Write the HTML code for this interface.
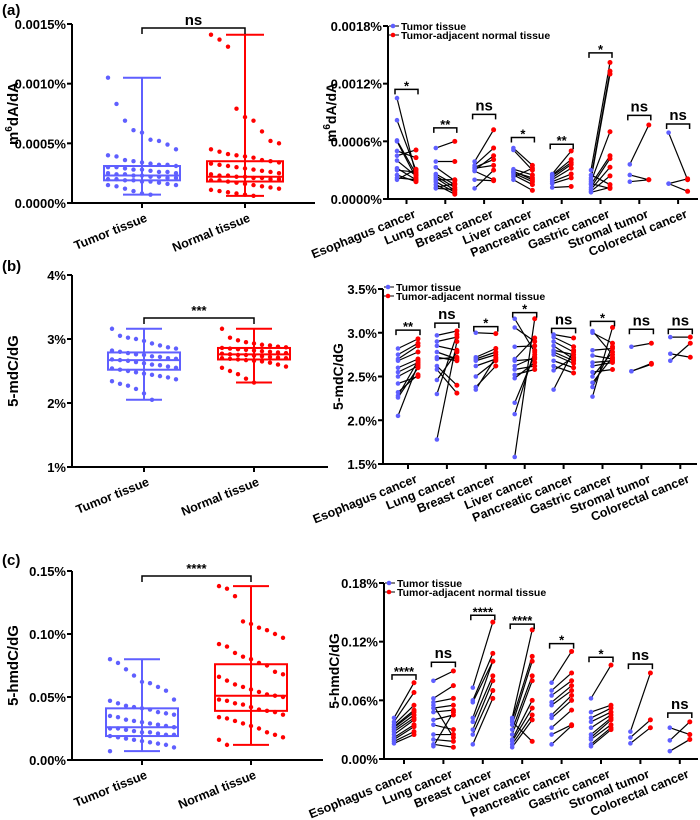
<!DOCTYPE html>
<html><head><meta charset="utf-8">
<style>
html,body{margin:0;padding:0;background:#fff;}
svg{display:block;font-family:"Liberation Sans",Arial,sans-serif;font-weight:bold;}
</style></head>
<body>
<svg id="fig" width="700" height="820" viewBox="0 0 700 820" xmlns="http://www.w3.org/2000/svg">
<text x="2" y="15" font-size="15">(a)</text>
<text x="2" y="271" font-size="15">(b)</text>
<text x="2" y="565" font-size="15">(c)</text>
</svg>
<script>
// ---------- DATA ----------
const groupNames = ["Tumor tissue","Normal tissue"];
const cancers = ["Esophagus cancer","Lung cancer","Breast cancer","Liver cancer","Pancreatic cancer","Gastric cancer","Stromal tumor","Colorectal cancer"];

// Panel a (units: 1e-4 %)
const aTicks = [0,5,10,15];
const aTickLabels = ["0.0000%","0.0005%","0.0010%","0.0015%"];
const aTumorPts = [10.5,8.3,6.9,6.1,5.9,5.3,5.2,4.9,4.5,4.0,3.9,3.6,3.5,3.4,3.3,3.2,3.2,3.1,3.0,3.0,2.9,2.8,2.8,2.7,2.6,2.6,2.5,2.5,2.4,2.4,2.3,2.3,2.2,2.2,2.1,2.1,2.0,2.0,1.9,1.9,1.8,1.8,1.7,1.6,1.5,1.5,1.4,1.2,1.0,0.8,0.7];
const aNormalPts = [14.1,13.7,13.1,7.9,7.2,6.9,6.0,5.2,5.0,4.5,4.3,4.1,4.0,3.9,3.8,3.6,3.5,3.4,3.3,3.2,3.1,3.0,2.9,2.8,2.7,2.6,2.5,2.4,2.3,2.3,2.2,2.2,2.1,2.1,2.0,2.0,1.9,1.9,1.8,1.7,1.6,1.5,1.4,1.3,1.2,1.1,1.0,0.9,0.8,0.7,0.6];
const aTumorBox = [0.7,1.9,2.3,3.1,10.5];
const aNormalBox = [0.6,1.8,2.2,3.5,14.1];
const aSig = "ns";
const aPairTicks = [0,6,12,18];
const aPairTickLabels = ["0.0000%","0.0006%","0.0012%","0.0018%"];
const aPairT = [[10.5,8.2,6.0,5.0,4.5,3.2,3.0,2.5,2.2,2.0,6.1,4.0],[5.3,3.9,3.3,2.6,2.4,2.2,1.8,1.5,1.1,2.0,1.2],[3.9,3.5,3.3,3.2,2.9,2.0,1.1,3.0],[5.3,5.1,3.1,2.9,2.7,2.5,2.0,2.3,2.8],[2.6,2.5,2.2,2.0,1.8,1.6,1.2,2.4],[3.0,2.2,2.0,1.8,1.5,1.2,1.0,0.8,0.7,1.6,2.5],[3.6,2.5,1.8],[6.9,1.6,1.6]];
const aPairN = [[2.5,3.0,2.2,4.3,5.1,2.0,2.8,1.8,2.0,3.1,2.6,2.4],[6.0,3.9,1.9,1.5,1.2,0.9,0.7,0.5,1.0,2.0,1.6],[7.2,5.3,4.1,3.5,2.0,1.9,3.0,4.5],[3.5,3.0,2.5,2.0,1.8,1.5,0.9,3.2,2.2],[5.0,4.1,3.6,3.2,2.6,2.2,1.3,3.8],[14.2,13.3,13.0,7.0,4.5,4.2,3.3,2.4,1.2,1.1,1.5],[7.7,2.0,2.0],[2.0,2.1,0.8]];
const aBracket = [11.4,7.4,8.8,6.4,5.7,15.2,8.7,7.8];
const aPairSig = ["*","**","ns","*","**","*","ns","ns"];

// Panel b (%)
const bTicks = [1,2,3,4];
const bTickLabels = ["1%","2%","3%","4%"];
const bTumorPts = [3.16,3.05,3.02,3.0,2.97,2.93,2.9,2.87,2.85,2.82,2.8,2.78,2.76,2.75,2.73,2.72,2.7,2.69,2.68,2.67,2.66,2.64,2.62,2.6,2.59,2.57,2.55,2.54,2.52,2.5,2.48,2.46,2.44,2.42,2.4,2.37,2.34,2.3,2.27,2.22,2.15,2.05];
const bNormalPts = [3.16,3.02,2.98,2.95,2.93,2.91,2.9,2.88,2.87,2.86,2.85,2.84,2.83,2.82,2.81,2.8,2.79,2.78,2.77,2.76,2.75,2.75,2.74,2.73,2.72,2.71,2.7,2.7,2.69,2.68,2.67,2.66,2.65,2.63,2.6,2.57,2.55,2.5,2.45,2.38,2.32];
const bTumorBox = [2.05,2.52,2.67,2.79,3.16];
const bNormalBox = [2.32,2.68,2.76,2.86,3.16];
const bSig = "***";
const bPairTicks = [1.5,2.0,2.5,3.0,3.5];
const bPairTickLabels = ["1.5%","2.0%","2.5%","3.0%","3.5%"];
const bPairT = [[2.82,2.75,2.68,2.6,2.55,2.5,2.42,2.32,2.28,2.26,2.05,2.7],[2.97,2.9,2.85,2.78,2.72,2.62,2.58,2.46,2.3,1.78,2.7],[3.0,2.72,2.7,2.68,2.62,2.5,2.38,2.35],[3.16,3.06,2.84,2.7,2.68,2.58,2.52,2.48,2.2,2.07,1.58,2.62],[2.98,2.95,2.9,2.85,2.78,2.75,2.68,2.62,2.57,2.35,2.8],[3.02,3.0,2.8,2.74,2.66,2.55,2.5,2.43,2.38,2.27,2.62],[2.84,2.56,2.56],[2.95,2.76,2.68]];
const bPairN = [[2.93,2.88,2.78,2.7,2.66,2.62,2.5,2.52,2.68,2.6,2.64,2.85],[3.02,2.95,2.8,2.7,2.68,2.4,2.31,2.78,2.98,2.9,2.72],[2.99,2.82,2.78,2.75,2.7,2.68,2.62,2.72],[2.78,2.9,2.85,2.94,2.7,2.62,2.58,2.66,2.75,2.8,3.16,2.72],[2.94,2.84,2.78,2.7,2.68,2.65,2.6,2.54,2.72,2.8,2.75],[2.75,2.88,2.82,2.7,2.68,2.58,2.78,2.72,2.84,3.06,2.66],[2.88,2.64,2.65],[2.95,2.72,2.88]];
const bBracket = [3.03,3.11,3.07,3.23,3.05,3.13,3.04,3.04];
const bPairSig = ["**","ns","*","*","ns","*","ns","ns"];

// Panel c (%)
const cTicks = [0,0.05,0.10,0.15];
const cTickLabels = ["0.00%","0.05%","0.10%","0.15%"];
const cTumorPts = [0.080,0.077,0.072,0.067,0.062,0.061,0.058,0.055,0.048,0.047,0.045,0.043,0.042,0.041,0.04,0.038,0.037,0.036,0.035,0.034,0.032,0.031,0.03,0.029,0.028,0.027,0.026,0.025,0.025,0.024,0.023,0.022,0.022,0.021,0.02,0.02,0.019,0.018,0.017,0.016,0.015,0.014,0.013,0.012,0.01,0.007];
const cNormalPts = [0.138,0.136,0.13,0.11,0.108,0.105,0.103,0.1,0.097,0.092,0.09,0.085,0.082,0.08,0.077,0.075,0.07,0.068,0.066,0.063,0.06,0.058,0.056,0.054,0.052,0.051,0.05,0.048,0.047,0.045,0.044,0.042,0.04,0.039,0.038,0.036,0.034,0.033,0.031,0.029,0.027,0.025,0.022,0.02,0.018,0.016,0.012];
const cTumorBox = [0.007,0.019,0.026,0.041,0.080];
const cNormalBox = [0.012,0.039,0.051,0.076,0.138];
const cSig = "****";
const cPairTicks = [0,0.06,0.12,0.18];
const cPairTickLabels = ["0.00%","0.06%","0.12%","0.18%"];
const cPairT = [[0.042,0.038,0.035,0.033,0.03,0.028,0.025,0.022,0.02,0.018,0.016,0.032],[0.08,0.062,0.058,0.052,0.048,0.04,0.035,0.025,0.02,0.015,0.013,0.055],[0.073,0.06,0.042,0.038,0.03,0.025,0.015,0.058],[0.042,0.04,0.035,0.03,0.025,0.02,0.018,0.015,0.012,0.038],[0.078,0.07,0.065,0.058,0.055,0.045,0.042,0.032,0.025,0.015],[0.062,0.048,0.042,0.038,0.032,0.025,0.022,0.02,0.015,0.013],[0.028,0.022,0.016],[0.032,0.019,0.008]];
const cPairN = [[0.078,0.068,0.055,0.05,0.045,0.042,0.04,0.035,0.033,0.028,0.025,0.048],[0.09,0.075,0.062,0.055,0.05,0.045,0.03,0.025,0.018,0.012,0.048,0.022],[0.14,0.108,0.1,0.085,0.08,0.07,0.062,0.1],[0.132,0.105,0.1,0.085,0.08,0.06,0.052,0.045,0.04,0.018],[0.11,0.088,0.08,0.075,0.07,0.065,0.06,0.05,0.035,0.034],[0.096,0.055,0.052,0.048,0.045,0.042,0.04,0.035,0.032,0.03],[0.088,0.04,0.032],[0.025,0.038,0.02]];
const cBracket = [0.086,0.099,0.147,0.138,0.118,0.104,0.097,0.047];
const cPairSig = ["****","ns","****","****","*","*","ns","ns"];

// ---------- RENDER ----------
const NS = "http://www.w3.org/2000/svg";
const svg = document.getElementById("fig");
const BLUE = "#5f5fff", RED = "#ff0000";
function mk(tag, attrs, parent, txt){
  const e = document.createElementNS(NS, tag);
  for (const k in attrs) e.setAttribute(k, attrs[k]);
  if (txt !== undefined) e.textContent = txt;
  (parent || svg).appendChild(e);
  return e;
}
function scale(v0, v1, p0, p1){ return v => p0 + (v - v0) * (p1 - p0) / (v1 - v0); }

function axes(g, x0, xEnd, yTop, yBot, ticks, labels, y, title, titleX, name, tfs){
  const ax = mk("line",{x1:x0,y1:yTop,x2:x0,y2:yBot,stroke:"#000","stroke-width":2},g);
  
  
  const bx = mk("line",{x1:x0-1,y1:yBot,x2:xEnd,y2:yBot,stroke:"#000","stroke-width":2},g);
  
  
  ticks.forEach((t,i)=>{
    mk("line",{x1:x0-5,y1:y(t),x2:x0,y2:y(t),stroke:"#000","stroke-width":2},g);
    const tl = mk("text",{x:x0-6,y:y(t)+5,"font-size":13,"text-anchor":"end"},g,labels[i]);
    
    
  });
  const tt = mk("text",{x:titleX,y:(yTop+yBot)/2,"font-size":tfs,"text-anchor":"middle",transform:`rotate(-90 ${titleX} ${(yTop+yBot)/2})`},g);
  
  
  if (typeof title === "object"){
    mk("tspan",{},tt,title.pre);
    mk("tspan",{dy:-6,"font-size":10},tt,title.sup);
    mk("tspan",{dy:6},tt,title.post);
  } else tt.textContent = title;
}
function xLabel(g, x, yBot, txt, name){
  const t = mk("text",{x:x+6,y:yBot+18,"font-size":12.5,"text-anchor":"end",transform:`rotate(-22 ${x+6} ${yBot+18})`},g,txt);
  
  
}

function leftPanel(o){
  const g = mk("g",{});
  
  
  const y = scale(o.vmin, o.vmax, o.yBot, o.yTop);
  axes(g, o.x0, o.xEnd, o.yTop, o.yBot, o.ticks, o.tickLabels, y, o.title, 18, o.name, 15);
  const pts = [o.T, o.N], boxes = [o.TB, o.NB], cols = [BLUE, RED];
  [0,1].forEach(k=>{
    const cx = o.centers[k], c = cols[k], b = boxes[k], h = o.half;
    mk("line",{x1:cx,y1:o.yBot,x2:cx,y2:o.yBot+5,stroke:"#000","stroke-width":2},g);
    xLabel(g, cx, o.yBot, groupNames[k], o.name+'-x-label');
    pts[k].forEach((v,i)=>{
      const off = (((i*37)%9)-4) * (h-4)/4;
      const d = mk("circle",{cx:cx+off,cy:y(v),r:2.2,fill:c},g);
      
      
    });
    const bg = mk("g",{stroke:c,"stroke-width":2,fill:"none"},g);
    
    
    mk("line",{x1:cx,y1:y(b[0]),x2:cx,y2:y(b[4])},bg);
    mk("line",{x1:cx-h/2,y1:y(b[0]),x2:cx+h/2,y2:y(b[0])},bg);
    mk("line",{x1:cx-h/2,y1:y(b[4]),x2:cx+h/2,y2:y(b[4])},bg);
    mk("rect",{x:cx-h,y:y(b[3]),width:2*h,height:y(b[1])-y(b[3])},bg);
    mk("line",{x1:cx-h,y1:y(b[2]),x2:cx+h,y2:y(b[2])},bg);
  });
  const by = o.bracketY;
  const br = mk("path",{d:`M${o.centers[0]},${by+6}V${by}H${o.centers[1]}V${by+6}`,stroke:"#000","stroke-width":1.5,fill:"none"},g);
  
  
  const st = mk("text",{x:(o.centers[0]+o.centers[1])/2,y:by-3,"font-size":o.sig==="ns"?15:13,"text-anchor":"middle"},g,o.sig);
  
  
}

function rightPanel(o){
  const g = mk("g",{});
  
  
  const y = scale(o.vmin, o.vmax, o.yBot, o.yTop);
  axes(g, o.x0, o.xEnd, o.yTop, o.yBot, o.ticks, o.tickLabels, y, o.title, o.titleX, o.name, 14);
  cancers.forEach((name,i)=>{
    const xt = o.gx0 + i*o.step, xn = xt + o.gap, xm = xt + o.gap/2;
    mk("line",{x1:xm,y1:o.yBot,x2:xm,y2:o.yBot+5,stroke:"#000","stroke-width":2},g);
    xLabel(g, xm+4, o.yBot, name, 'cancer-x-label');
    o.T[i].forEach((t,j)=>{
      const n = o.N[i][j];
      const l = mk("line",{x1:xt,y1:y(t),x2:xn,y2:y(n),stroke:"#000","stroke-width":1.2},g);
      
      
    });
    o.T[i].forEach(t=>{
      const d = mk("circle",{cx:xt,cy:y(t),r:2.3,fill:BLUE},g);
      
      
    });
    o.N[i].forEach(n=>{
      const d = mk("circle",{cx:xn,cy:y(n),r:2.5,fill:RED},g);
      
      
    });
    const by = y(o.br[i]);
    const br = mk("path",{d:`M${xt-2},${by+5}V${by}H${xn+2}V${by+5}`,stroke:"#000","stroke-width":1.5,fill:"none"},g);
    
    
    const st = mk("text",{x:xm,y:by-(o.sig[i]==="ns"?2:-3)-2,"font-size":o.sig[i]==="ns"?15:13,"text-anchor":"middle"},g,o.sig[i]);
    
    
  });
  const lg = mk("g",{},g);
  
  
  [["Tumor tissue",BLUE],["Tumor-adjacent normal tissue",RED]].forEach((e,k)=>{
    const ly = o.legY + k*9;
    const le = mk("g",{},lg);
    
    
    mk("line",{x1:o.x0+1,y1:ly,x2:o.x0+11,y2:ly,stroke:"#000","stroke-width":1},le);
    mk("circle",{cx:o.x0+5,cy:ly,r:2.3,fill:e[1]},le);
    mk("text",{x:o.x0+13,y:ly+4,"font-size":10.5},le,e[0]);
  });
}

leftPanel({name:"panel-a-box",x0:72,xEnd:315,yTop:24,yBot:203,vmin:0,vmax:15,ticks:aTicks,tickLabels:aTickLabels,
  centers:[142,245],half:38,T:aTumorPts,N:aNormalPts,TB:aTumorBox,NB:aNormalBox,bracketY:28,sig:aSig,
  title:{pre:"m",sup:"6",post:"dA/dA"}});
rightPanel({name:"panel-a-paired",x0:388,xEnd:698,yTop:26,yBot:199,vmin:0,vmax:18,ticks:aPairTicks,tickLabels:aPairTickLabels,
  gx0:397,step:38.8,gap:19,T:aPairT,N:aPairN,br:aBracket,sig:aPairSig,legY:26,titleX:336,title:{pre:"m",sup:"6",post:"dA/dA"}});

leftPanel({name:"panel-b-box",x0:72,xEnd:328,yTop:275,yBot:467,vmin:1,vmax:4,ticks:bTicks,tickLabels:bTickLabels,
  centers:[144,254],half:36,T:bTumorPts,N:bNormalPts,TB:bTumorBox,NB:bNormalBox,bracketY:318,sig:bSig,title:"5-mdC/dG"});
rightPanel({name:"panel-b-paired",x0:383,xEnd:697,yTop:289,yBot:464,vmin:1.5,vmax:3.5,ticks:bPairTicks,tickLabels:bPairTickLabels,
  gx0:398,step:38.9,gap:20,T:bPairT,N:bPairN,br:bBracket,sig:bPairSig,legY:287,titleX:343,title:"5-mdC/dG"});

leftPanel({name:"panel-c-box",x0:72,xEnd:323,yTop:571,yBot:760,vmin:0,vmax:0.15,ticks:cTicks,tickLabels:cTickLabels,
  centers:[142,251],half:36,T:cTumorPts,N:cNormalPts,TB:cTumorBox,NB:cNormalBox,bracketY:576,sig:cSig,title:"5-hmdC/dG"});
rightPanel({name:"panel-c-paired",x0:384,xEnd:698,yTop:583,yBot:759,vmin:0,vmax:0.18,ticks:cPairTicks,tickLabels:cPairTickLabels,
  gx0:394,step:39.4,gap:20,T:cPairT,N:cPairN,br:cBracket,sig:cPairSig,legY:583,titleX:339,title:"5-hmdC/dG"});
</script>
</body></html>
